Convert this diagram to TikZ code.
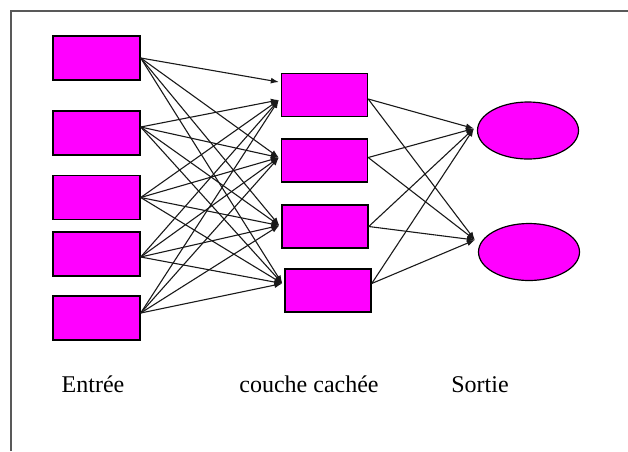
\documentclass[tikz,border=0pt]{standalone}
\usepackage{fontspec}
\setmainfont{Liberation Serif}
\usetikzlibrary{arrows.meta,shapes.geometric}
\definecolor{mag}{RGB}{255,0,255}
\tikzset{
  inbox/.style={draw=black, line width=1.4pt, fill=mag, minimum width=87pt, minimum height=44pt, inner sep=0pt},
  hidbox/.style={draw=black, line width=1.4pt, fill=mag, minimum width=86pt, minimum height=43pt, inner sep=0pt},
  outell/.style={ellipse, draw=black, line width=1.2pt, fill=mag, minimum width=101pt, minimum height=57pt, inner sep=0pt},
  link/.style={draw=black!90, line width=1.1pt, -{Latex[length=8pt,width=6pt]}},
  lbl/.style={anchor=base, font=\fontsize{24}{28}\selectfont, inner sep=0pt},
  frameline/.style={draw=black!65, line width=1.8pt}
}
\begin{document}
\begin{tikzpicture}[x=1pt, y=-1pt]
\useasboundingbox (0,0) rectangle (628,451);
% frame
\draw[frameline] (11,451) -- (11,11) -- (628,11);

% input layer
\node[inbox] (in1) at (96.5,58) {};
\node[inbox] (in2) at (96.5,133) {};
\node[inbox] (in3) at (96.5,197.5) {};
\node[inbox] (in4) at (96.5,254) {};
\node[inbox] (in5) at (96.5,318) {};

% hidden layer
\node[hidbox] (h1) at (324.5,95) {};
\node[hidbox] (h2) at (324.5,160.5) {};
\node[hidbox] (h3) at (325,226.5) {};
\node[hidbox] (h4) at (328,290.5) {};

% output layer
\node[outell] (o1) at (528,130.5) {};
\node[outell] (o2) at (529,252) {};

% connection points
\coordinate (s1) at (in1.east);
\coordinate (s2) at ([yshift=6pt]in2.east);
\coordinate (s3) at (in3.east);
\coordinate (s4) at ([yshift=-3pt]in4.east);
\coordinate (s5) at ([yshift=5pt]in5.east);
\coordinate (t1a) at ([xshift=-2pt,yshift=13pt]h1.west);
\coordinate (t1) at ([xshift=-2pt,yshift=-5pt]h1.west);
\coordinate (t2) at ([xshift=-2pt,yshift=3pt]h2.west);
\coordinate (t3) at ([xshift=-2pt,yshift=1pt]h3.west);
\coordinate (t4) at ([xshift=-2pt,yshift=7pt]h4.west);
\coordinate (u1) at ([yshift=-4pt]h1.east);
\coordinate (u2) at ([yshift=3pt]h2.east);
\coordinate (u3) at (h3.east);
\coordinate (u4) at ([yshift=7pt]h4.east);
\coordinate (v1) at ([xshift=-3pt,yshift=2pt]o1.west);
\coordinate (v2) at ([xshift=-3pt,yshift=12pt]o2.west);

% input -> hidden
\draw[link] (s1) -- (t1a);
\foreach \t in {t2,t3,t4} \draw[link] (s1) -- (\t);
\foreach \s in {s2,s3,s4,s5}
  \foreach \t in {t1,t2,t3,t4}
    \draw[link] (\s) -- (\t);

% hidden -> output
\foreach \s in {u1,u2,u3,u4}
  \foreach \t in {v1,v2}
    \draw[link] (\s) -- (\t);

% layer labels
\node[lbl] (l1) at (93,392) {Entrée};
\node[lbl] (l2) at (309,392) {couche cachée};
\node[lbl] (l3) at (480,392) {Sortie};
\end{tikzpicture}
\end{document}
